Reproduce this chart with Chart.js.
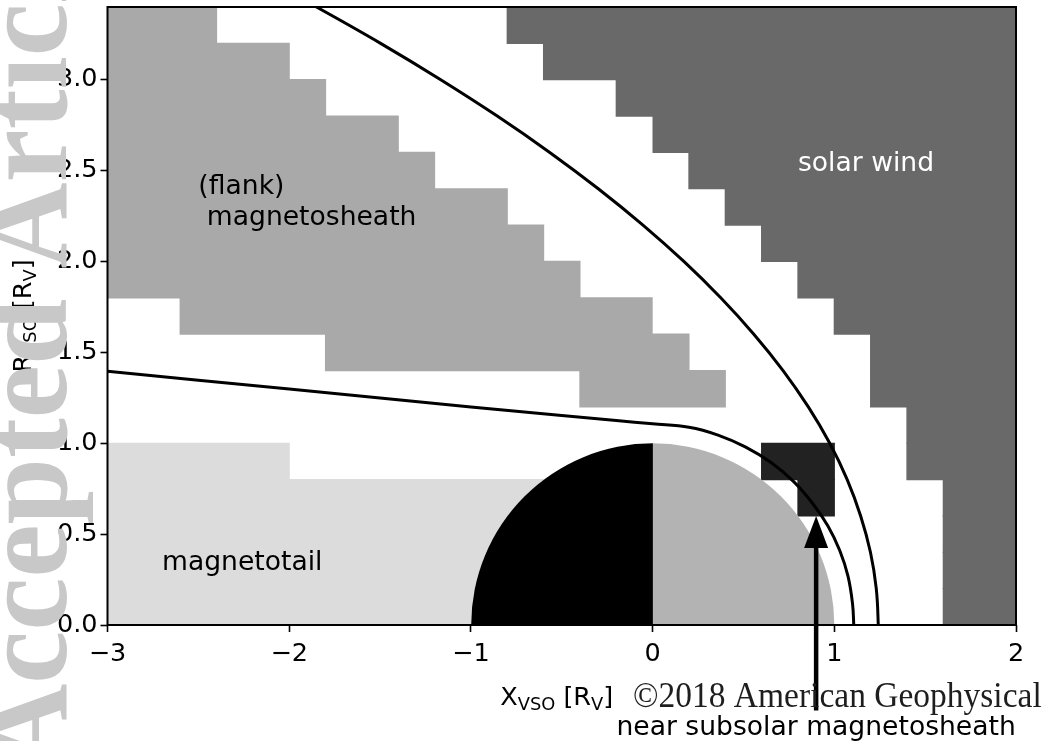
<!DOCTYPE html>
<html>
<head>
<meta charset="utf-8">
<script src="https://cdn.jsdelivr.net/npm/chart.js@4.4.1/dist/chart.umd.min.js"></script>
<style>
  html, body { margin: 0; padding: 0; background: #ffffff; overflow: hidden; }
  canvas { display: block; }
</style>
</head>
<body>
<canvas id="regions" width="1042" height="741"></canvas>
<script>
// Venus plasma regions in cylindrical VSO coordinates, units of Venus radii (R_V)

// Axis ticks
const xTicks = [-3, -2, -1, 0, 1, 2];
const xTickLabels = ['\u22123', '\u22122', '\u22121', '0', '1', '2'];
const yTicks = [0, 0.5, 1.0, 1.5, 2.0, 2.5, 3.0];
const yTickLabels = ['0.0', '0.5', '1.0', '1.5', '2.0', '2.5', '3.0'];

// Binned regions: lower edge of each 0.2 R_V row and the X range it covers
const cellHeight = 0.2;

const solarWindRowY  = [3.2, 3.0, 2.8, 2.6, 2.4, 2.2, 2.0, 1.8, 1.6, 1.4, 1.2, 1.0, 0.8, 0.6, 0.4, 0.2, 0.0];
const solarWindFromX = [-0.8, -0.6, -0.2, 0.0, 0.2, 0.4, 0.6, 0.8, 1.0, 1.2, 1.2, 1.4, 1.4, 1.6, 1.6, 1.6, 1.6];
const solarWindToX   = [2, 2, 2, 2, 2, 2, 2, 2, 2, 2, 2, 2, 2, 2, 2, 2, 2];

const flankRowY  = [3.2, 3.0, 2.8, 2.6, 2.4, 2.2, 2.0, 1.8, 1.6, 1.4, 1.2];
const flankFromX = [-3.0, -3.0, -3.0, -3.0, -3.0, -3.0, -3.0, -3.0, -2.6, -1.8, -0.4];
const flankToX   = [-2.4, -2.0, -1.8, -1.4, -1.2, -0.8, -0.6, -0.4, 0.0, 0.2, 0.4];

const tailRowY  = [0.8, 0.6, 0.4, 0.2, 0.0];
const tailFromX = [-3.0, -3.0, -3.0, -3.0, -3.0];
const tailToX   = [-2.0, -0.6, -0.6, -0.6, -0.6];

const subsolarRowY  = [0.8, 0.6];
const subsolarFromX = [0.6, 0.8];
const subsolarToX   = [1.0, 1.0];

// Bow shock
const bowShockX = [1.241, 1.242, 1.231, 1.199, 1.145, 1.071, 0.975, 0.857, 0.718, 0.557, 0.375, 0.172, -0.053, -0.299, -0.566, -0.855, -1.166, -1.497, -1.850, -2.020];
const bowShockY = [-0.05, 0.00, 0.20, 0.40, 0.60, 0.80, 1.00, 1.20, 1.40, 1.60, 1.80, 2.00, 2.20, 2.40, 2.60, 2.80, 3.00, 3.20, 3.40, 3.49];

// Induced magnetospheric boundary
const imbX = [-3.0, -2.0, -1.0, -0.5, -0.2, 0.0, 0.20, 0.36, 0.51, 0.65, 0.775, 0.88, 0.965, 1.030, 1.075, 1.100, 1.107, 1.107];
const imbY = [1.396, 1.298, 1.200, 1.153, 1.125, 1.107, 1.088, 1.045, 0.980, 0.895, 0.790, 0.670, 0.545, 0.410, 0.270, 0.120, 0.0, -0.05];

// Venus
const planetCenter = [0, 0];
const planetRadius = 1;

// Region names
const labelText = ['(flank)', ' magnetosheath', 'magnetotail', 'solar wind'];
const labelX    = [-2.5, -2.5, -2.7, 0.8];
const labelY    = [2.369, 2.2, 0.3, 2.5];
const labelColor = ['#000000', '#000000', '#000000', '#ffffff'];

// Pointer to the near-subsolar bins
const arrowTip  = [0.9, 0.6];
const arrowTail = [0.9, -0.47];
const arrowText = 'near subsolar magnetosheath';
const arrowTextAt = [0.9, -0.605];

const FONT = '"DejaVu Sans", sans-serif';
const FS_TICK = 25.5;
const FS_TEXT = 26.6;

function rows(rowY, fromX, toX) {
  return rowY.map((y, i) => ({ y: y + cellHeight / 2, x: [fromX[i], toX[i]] }));
}
function points(xs, ys) {
  return xs.map((x, i) => ({ x: x, y: ys[i] }));
}

function cellSet(label, data, color) {
  return {
    type: 'bar', label: label, data: data,
    backgroundColor: color, borderWidth: 0, inflateAmount: 0.6,
    grouped: false, barPercentage: 1, categoryPercentage: 1
  };
}
function curveSet(label, data) {
  return {
    type: 'line', label: label, data: data, indexAxis: 'x',
    borderColor: '#000000', borderWidth: 3, pointRadius: 0, pointHoverRadius: 0,
    fill: false, tension: 0.4, borderCapStyle: 'butt', borderJoinStyle: 'round'
  };
}

function drawRich(ctx, parts, cx, baseY, size) {
  const mainFont = size + 'px ' + FONT;
  const subFont = (size * 0.7) + 'px ' + FONT;
  let total = 0;
  const widths = parts.map(p => {
    ctx.font = p.sub ? subFont : mainFont;
    const w = ctx.measureText(p.t).width;
    total += w;
    return w;
  });
  let x = cx - total / 2;
  ctx.textAlign = 'left';
  ctx.textBaseline = 'alphabetic';
  parts.forEach((p, i) => {
    ctx.font = p.sub ? subFont : mainFont;
    ctx.fillText(p.t, x, baseY + (p.sub ? 4.5 : 0));
    x += widths[i];
  });
}

const overlay = {
  id: 'overlay',
  beforeDatasetDraw(chart, args) {
    if (args.index !== 1) return;
    // the planet sits above the binned regions and below the boundaries
    const { ctx, chartArea: a, scales: { x, y } } = chart;
    const cx = x.getPixelForValue(planetCenter[0]);
    const cy = y.getPixelForValue(planetCenter[1]);
    const r = x.getPixelForValue(planetCenter[0] + planetRadius) - cx;
    ctx.save();
    ctx.beginPath();
    ctx.rect(a.left, a.top, a.right - a.left, a.bottom - a.top);
    ctx.clip();
    ctx.fillStyle = '#b3b3b3';
    ctx.beginPath();
    ctx.moveTo(cx, cy);
    ctx.arc(cx, cy, r, -Math.PI / 2, Math.PI / 2);
    ctx.closePath();
    ctx.fill();
    ctx.fillStyle = '#000000';
    ctx.beginPath();
    ctx.moveTo(cx + 0.3, cy);
    ctx.arc(cx + 0.3, cy, r, Math.PI / 2, Math.PI * 1.5);
    ctx.closePath();
    ctx.fill();
    ctx.restore();
  },
  afterDatasetsDraw(chart) {
    const { ctx, chartArea: a, scales: { x, y } } = chart;
    ctx.save();
    // axes frame
    ctx.strokeStyle = '#000000';
    ctx.lineWidth = 2;
    ctx.strokeRect(a.left, a.top, a.right - a.left, a.bottom - a.top);

    // region names
    ctx.font = FS_TEXT + 'px ' + FONT;
    ctx.textAlign = 'left';
    ctx.textBaseline = 'alphabetic';
    labelText.forEach((t, i) => {
      ctx.fillStyle = labelColor[i];
      ctx.fillText(t, x.getPixelForValue(labelX[i]), y.getPixelForValue(labelY[i]));
    });

    // arrow
    const tx = x.getPixelForValue(arrowTip[0]);
    const ty = y.getPixelForValue(arrowTip[1]);
    const sx = x.getPixelForValue(arrowTail[0]);
    const sy = y.getPixelForValue(arrowTail[1]);
    const headLen = 32, headHalf = 12;
    ctx.fillStyle = '#000000';
    ctx.strokeStyle = '#000000';
    ctx.lineWidth = 4.5;
    ctx.beginPath();
    ctx.moveTo(sx, sy);
    ctx.lineTo(tx, ty + headLen - 2);
    ctx.stroke();
    ctx.beginPath();
    ctx.moveTo(tx, ty);
    ctx.lineTo(tx - headHalf, ty + headLen);
    ctx.lineTo(tx + headHalf, ty + headLen);
    ctx.closePath();
    ctx.fill();

    ctx.font = FS_TEXT + 'px ' + FONT;
    ctx.textAlign = 'center';
    ctx.fillText(arrowText, x.getPixelForValue(arrowTextAt[0]), y.getPixelForValue(arrowTextAt[1]));
    ctx.restore();
  },
  afterDraw(chart) {
    const { ctx, chartArea: a } = chart;
    ctx.save();
    ctx.fillStyle = '#000000';
    // axis titles with subscripts
    drawRich(ctx, [
      { t: 'X', sub: false }, { t: 'VSO', sub: true }, { t: ' [R', sub: false },
      { t: 'V', sub: true }, { t: ']', sub: false }
    ], (a.left + a.right) / 2 - 5, 705, FS_TICK);

    ctx.save();
    ctx.translate(31, (a.top + a.bottom) / 2);
    ctx.rotate(-Math.PI / 2);
    drawRich(ctx, [
      { t: 'R', sub: false }, { t: 'VSO', sub: true }, { t: ' [R', sub: false },
      { t: 'V', sub: true }, { t: ']', sub: false }
    ], 0, 0, FS_TICK);
    ctx.restore();

    // publisher notice
    ctx.save();
    ctx.font = '33.5px "Liberation Serif", serif';
    ctx.fillStyle = '#1e1e1e';
    ctx.textAlign = 'left';
    ctx.textBaseline = 'alphabetic';
    ctx.translate(633, 707);
    ctx.scale(1, 1.08);
    ctx.fillText('\u00a92018 American Geophysical', 0, 0);
    ctx.restore();

    // manuscript watermark along the left margin, running bottom to top
    ctx.save();
    ctx.font = 'bold 125px "Liberation Serif", serif';
    const runLength = 800;
    const squeeze = runLength / ctx.measureText('Accepted Articl').width;
    ctx.translate(66, 770);
    ctx.rotate(-Math.PI / 2);
    ctx.scale(squeeze, 1);
    ctx.fillStyle = '#c8c8c8';
    ctx.textAlign = 'left';
    ctx.textBaseline = 'alphabetic';
    ctx.fillText('Accepted Article', 0, 0);
    ctx.restore();

    ctx.restore();
  }
};

new Chart(document.getElementById('regions'), {
  type: 'bar',
  data: {
    datasets: [
      curveSet('bow shock', points(bowShockX, bowShockY)),
      curveSet('induced magnetospheric boundary', points(imbX, imbY)),
      cellSet('near subsolar magnetosheath', rows(subsolarRowY, subsolarFromX, subsolarToX), '#222222'),
      cellSet('magnetotail', rows(tailRowY, tailFromX, tailToX), '#dcdcdc'),
      cellSet('flank magnetosheath', rows(flankRowY, flankFromX, flankToX), '#a9a9a9'),
      cellSet('solar wind', rows(solarWindRowY, solarWindFromX, solarWindToX), '#696969')
    ]
  },
  options: {
    indexAxis: 'y',
    responsive: false,
    animation: false,
    events: [],
    devicePixelRatio: 1,
    layout: { padding: { top: 7, right: 26, bottom: 0, left: 0 } },
    plugins: { legend: { display: false }, tooltip: { enabled: false }, title: { display: false } },
    scales: {
      x: {
        type: 'linear', position: 'bottom', min: -3, max: 2, offset: false,
        afterBuildTicks: s => { s.ticks = xTicks.map(v => ({ value: v })); },
        afterFit: s => { s.height = 116; s.paddingLeft = 0; s.paddingRight = 0; },
        grid: { display: true, drawOnChartArea: false, drawTicks: true, tickLength: 7, tickWidth: 1.6, tickColor: '#000000', offset: false },
        border: { display: false },
        ticks: {
          autoSkip: false, maxRotation: 0, padding: 7, color: '#000000',
          font: { family: FONT, size: FS_TICK },
          callback: (v, i) => xTickLabels[i]
        }
      },
      y: {
        type: 'linear', position: 'left', min: 0, max: 3.4, offset: false,
        afterBuildTicks: s => { s.ticks = yTicks.map(v => ({ value: v })); },
        afterFit: s => { s.width = 107.5; s.paddingTop = 0; s.paddingBottom = 0; },
        grid: { display: true, drawOnChartArea: false, drawTicks: true, tickLength: 7, tickWidth: 1.6, tickColor: '#000000', offset: false },
        border: { display: false },
        ticks: {
          autoSkip: false, padding: 3, color: '#000000',
          font: { family: FONT, size: FS_TICK },
          callback: (v, i) => yTickLabels[i]
        }
      }
    }
  },
  plugins: [overlay]
});
</script>
</body>
</html>
